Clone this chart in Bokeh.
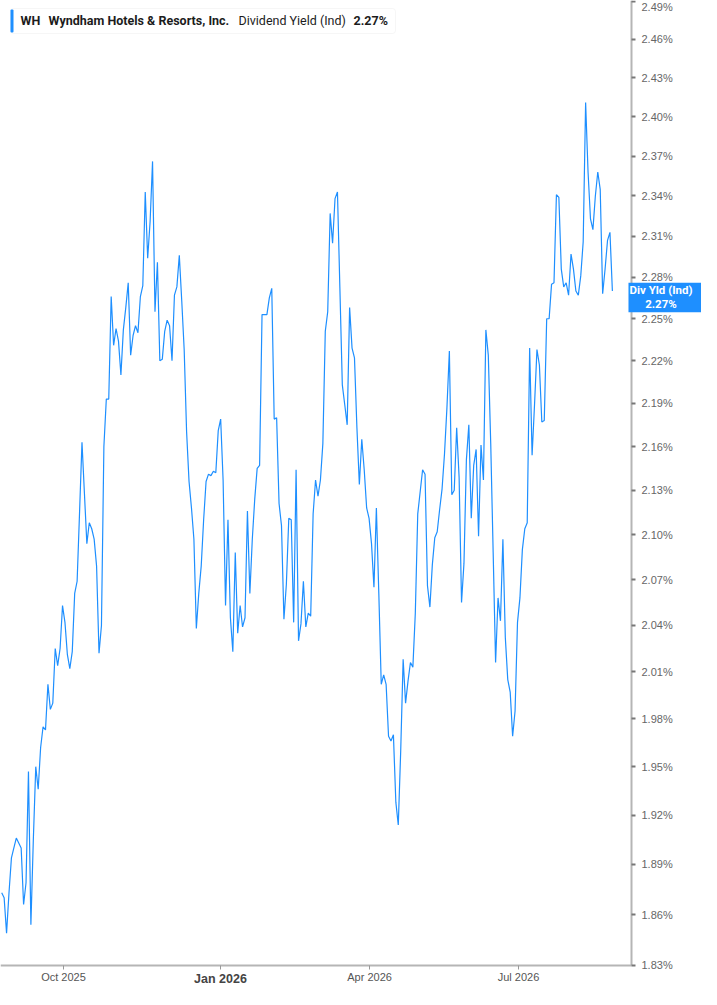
import math
from bokeh.plotting import figure
from bokeh.models import (ColumnDataSource, FixedTicker, PrintfTickFormatter,
                          CustomJSTickFormatter, Label, BoxAnnotation, Range1d)
from bokeh.embed import file_html
from bokeh.resources import INLINE

# ---------------- data ----------------
TICKER = "WH"
COMPANY = "Wyndham Hotels & Resorts, Inc."
METRIC = "Dividend Yield (Ind)"
BADGE_NAME = "Div Yld (Ind)"

# daily dividend yield (%), one value per trading day
VALUES = [
    1.873, 1.870, 1.849, 1.873, 1.894, 1.900, 1.906, 1.903, 1.900, 1.866,
    1.879, 1.947, 1.854, 1.905, 1.950, 1.936, 1.962, 1.975, 1.973, 2.002,
    1.986, 1.990, 2.025, 2.014, 2.025, 2.053, 2.042, 2.021, 2.012, 2.023,
    2.061, 2.069, 2.115, 2.163, 2.128, 2.094, 2.108, 2.104, 2.097, 2.079,
    2.022, 2.040, 2.160, 2.193, 2.193, 2.266, 2.231, 2.243, 2.234, 2.210,
    2.242, 2.258, 2.276, 2.224, 2.238, 2.245, 2.240, 2.266, 2.274, 2.343,
    2.294, 2.321, 2.366, 2.255, 2.291, 2.220, 2.221, 2.241, 2.249, 2.245,
    2.220, 2.267, 2.273, 2.296, 2.263, 2.228, 2.170, 2.136, 2.118, 2.097,
    2.038, 2.061, 2.079, 2.110, 2.136, 2.141, 2.140, 2.143, 2.142, 2.171,
    2.179, 2.137, 2.053, 2.110, 2.045, 2.023, 2.088, 2.035, 2.053, 2.039,
    2.045, 2.116, 2.061, 2.097, 2.124, 2.145, 2.147, 2.253, 2.253, 2.253,
    2.265, 2.272, 2.179, 2.180, 2.121, 2.106, 2.044, 2.067, 2.111, 2.110,
    2.042, 2.144, 2.030, 2.041, 2.069, 2.039, 2.048, 2.046, 2.114, 2.137,
    2.126, 2.137, 2.162, 2.241, 2.255, 2.327, 2.305, 2.338, 2.343, 2.272,
    2.203, 2.189, 2.175, 2.258, 2.229, 2.222, 2.173, 2.134, 2.165, 2.144,
    2.118, 2.111, 2.094, 2.065, 2.118, 2.061, 2.002, 2.008, 2.002, 1.969,
    1.966, 1.970, 1.928, 1.914, 1.960, 2.018, 1.990, 2.004, 2.016, 2.013,
    2.048, 2.114, 2.129, 2.144, 2.141, 2.066, 2.052, 2.080, 2.098, 2.102,
    2.117, 2.131, 2.155, 2.187, 2.227, 2.127, 2.130, 2.173, 2.139, 2.055,
    2.081, 2.151, 2.175, 2.111, 2.147, 2.158, 2.099, 2.161, 2.137, 2.242,
    2.224, 2.162, 2.088, 2.016, 2.058, 2.043, 2.097, 2.032, 2.005, 1.997,
    1.969, 1.985, 2.042, 2.058, 2.090, 2.104, 2.108, 2.229, 2.154, 2.189,
    2.228, 2.217, 2.177, 2.178, 2.250, 2.250, 2.275, 2.276, 2.341, 2.339,
    2.286, 2.273, 2.276, 2.267, 2.297, 2.286, 2.270, 2.267, 2.281, 2.306,
    2.411, 2.358, 2.323, 2.315, 2.340, 2.358, 2.345, 2.268, 2.286, 2.307,
    2.313, 2.270,
]
DAY_INDEX = list(range(len(VALUES)))

X_TICKS = [25.4, 89.9, 151.2, 212.4]
X_LABELS = ["Oct 2025", "Jan 2026", "Apr 2026", "Jul 2026"]
BOLD_X_LABELS = ["Jan 2026"]

Y_TICKS = [1.83, 1.86, 1.89, 1.92, 1.95, 1.98, 2.01, 2.04, 2.07, 2.10, 2.13,
           2.16, 2.19, 2.22, 2.25, 2.28, 2.31, 2.34, 2.37, 2.40, 2.43, 2.46, 2.49]

LAST = VALUES[-1]

# ---------------- layout ----------------
W, H = 701, 989
PX_PER_DAY = 2.433
X_OFF = 1.2
X0 = (0 - X_OFF) / PX_PER_DAY
X1 = (W - X_OFF) / PX_PER_DAY
Y0, Y1 = 1.8160, 2.4908
AXIS_X_PX = 631      # where the value axis sits
BLUE = "#1e8fff"
FONT = "Liberation Sans"
LFONT = "Roboto"


def dx(px):
    return X0 + px / W * (X1 - X0)


def dy(py):
    l1, l0 = math.log(Y1), math.log(Y0)
    return math.exp(l1 - py / H * (l1 - l0))


AXIS_X = dx(AXIS_X_PX)

p = figure(width=W, height=H, x_range=Range1d(X0, X1), y_range=Range1d(Y0, Y1),
           y_axis_type="log", y_axis_location="right",
           output_backend="svg", toolbar_location=None,
           min_border=0, min_border_left=0, min_border_top=0,
           min_border_right=0, min_border_bottom=0)
p.outline_line_color = None
p.grid.visible = False
p.background_fill_color = "white"
p.border_fill_color = "white"

src = ColumnDataSource(dict(x=DAY_INDEX, y=VALUES))
p.line("x", "y", source=src, line_color=BLUE, line_width=1.2)

# y axis (right, drawn at a fixed position)
ya = p.yaxis[0]
ya.fixed_location = AXIS_X
ya.bounds = (Y_TICKS[0], Y1)
ya.ticker = FixedTicker(ticks=Y_TICKS, minor_ticks=[])
ya.formatter = PrintfTickFormatter(format="%.2f%%")
ya.axis_line_color = "#b5b5b5"
ya.axis_line_width = 2
ya.major_tick_line_color = "#777777"
ya.major_tick_line_width = 2
ya.major_tick_out = 4
ya.major_tick_in = 0
ya.minor_tick_line_color = None
ya.major_label_text_font = FONT
ya.major_label_text_font_size = "11px"
ya.major_label_text_color = "#666666"
ya.major_label_standoff = 6

# x axis (bottom, drawn at a fixed position)
xa = p.xaxis[0]
xa.fixed_location = Y_TICKS[0]
xa.bounds = (X0, AXIS_X)
xa.ticker = FixedTicker(ticks=X_TICKS, minor_ticks=[])
xa.formatter = CustomJSTickFormatter(
    args=dict(pos=X_TICKS, lab=X_LABELS, bold=BOLD_X_LABELS),
    code="""
    let best = 0, bd = 1e9;
    for (let i = 0; i < pos.length; i++) {
        const d = Math.abs(pos[i] - tick);
        if (d < bd) { bd = d; best = i; }
    }
    const t = lab[best];
    return bold.includes(t) ? "" : t;
    """)
xa.axis_line_color = "#b5b5b5"
xa.axis_line_width = 2
xa.major_tick_line_color = "#999999"
xa.major_tick_out = 4
xa.major_tick_in = 0
xa.minor_tick_line_color = None
xa.major_label_text_font = FONT
xa.major_label_text_font_size = "11px"
xa.major_label_text_color = "#555555"
xa.major_label_standoff = 2

for pos, lab in zip(X_TICKS, X_LABELS):
    if lab in BOLD_X_LABELS:
        p.add_layout(Label(x=pos, y=dy(978), text=lab, text_align="center",
                           text_baseline="middle", text_font=FONT,
                           text_font_size="12.5px", text_font_style="bold",
                           text_color="#444444"))

# legend box
p.add_layout(BoxAnnotation(left=dx(10), right=dx(395), top=dy(8), bottom=dy(33),
                           fill_color="white", fill_alpha=1.0,
                           line_color="#e2e2e2", line_width=1, border_radius=3))
p.add_layout(BoxAnnotation(left=dx(10), right=dx(13), top=dy(9), bottom=dy(32),
                           fill_color=BLUE, fill_alpha=1.0, line_color=None,
                           border_radius=1))

legend_parts = [
    (20, TICKER, "bold"),
    (48, COMPANY, "bold"),
    (238, METRIC, "normal"),
    (353, f"{LAST:.2f}%", "bold"),
]
for px, txt, style in legend_parts:
    p.add_layout(Label(x=dx(px), y=dy(20), text=txt, text_align="left",
                       text_baseline="middle", text_font=LFONT,
                       text_font_size="12.5px", text_font_style=style,
                       text_color="#1c1c1c"))

# value badge on the value axis
p.add_layout(Label(x=dx(667), y=dy(297), text=f"{BADGE_NAME}\n{LAST:.2f}%",
                   text_align="center", text_baseline="middle",
                   text_font=LFONT, text_font_size="11.5px", text_font_style="bold",
                   text_color="white", text_line_height=1.05,
                   background_fill_color=BLUE, background_fill_alpha=1.0,
                   padding=dict(left=1, right=14, top=0, bottom=1)))

open("out.html", "w").write(file_html(p, INLINE))
